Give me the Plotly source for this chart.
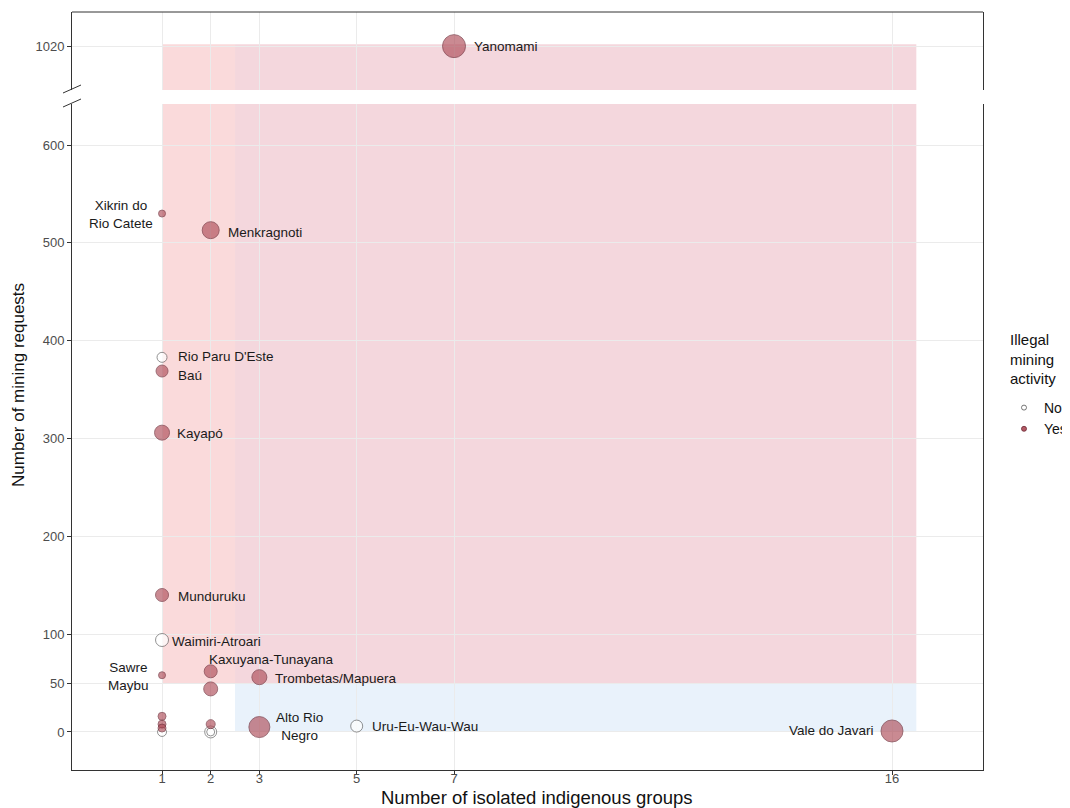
import plotly.graph_objects as go

# ---------------- data ----------------
names = ["Yanomami", "Xikrin do<br>Rio Catete", "Menkragnoti", "Rio Paru D'Este", "Baú",
         "Kayapó", "Munduruku", "Waimiri-Atroari", "Sawre<br>Maybu", "Kaxuyana-Tunayana",
         "", "Trombetas/Mapuera", "Alto Rio<br>Negro", "Uru-Eu-Wau-Wau", "Vale do Javari",
         "", "", "", "", "", "", ""]
isolated_groups = [7, 1, 2, 1, 1, 1, 1, 1, 1, 2, 2, 3, 3, 5, 16, 1, 1, 1, 1, 2, 2, 2]
mining_requests = [1020, 530, 513, 383, 369, 306, 140, 94, 58, 62, 44, 56, 5, 6, 1, 16, 8, 4, 0, 8, 0, 0]
territory_size = [23, 7, 17, 10, 12, 15, 13, 13, 7, 13, 14, 15, 21, 12, 22, 8, 8, 8, 9, 9, 12, 8]
illegal_mining = ["Yes", "Yes", "Yes", "No", "Yes", "Yes", "Yes", "No", "Yes", "Yes",
                  "Yes", "Yes", "Yes", "No", "Yes", "Yes", "Yes", "Yes", "No", "Yes", "No", "No"]

x_ticks = [1, 2, 3, 5, 7, 16]
y_ticks_low = [0, 50, 100, 200, 300, 400, 500, 600]
y_ticks_high = [1020]
break_value = 700

# ---------------- label placement (style) ----------------
label_dx = [18, -7, 15, 14, 14, 13, 14, 8, -11, -4, 0, 14, 15, 13, -16, 0, 0, 0, 0, 0, 0, 0]
label_dy = [0, -1, -2, 1, -4, -1, -1, -1, -1, 12, 0, -1, 1, 0, 0, 0, 0, 0, 0, 0, 0, 0]
label_anchor = ["left", "right", "left", "left", "left", "left", "left", "left", "right", "left",
                "left", "left", "left", "left", "right", "left", "left", "left", "left", "left", "left", "left"]

FONT = "Liberation Sans, Arial, sans-serif"
FILL_YES = "rgba(172,72,84,0.9)"
LINE_YES = "#6a2632"
LINE_NO = "#555555"

# page body has an 8px margin; plot area wanted at screen px [72..983] x [12..770]
OFF = 8
W, H = 1070, 808
PL, PR, PT, PB = 72, 983, 12, 770
pw, ph = PR - PL, PB - PT
L, T = PL - OFF, PT - OFF
R, B = W - pw - L, H - ph - T


def px_x(p):
    return (p - PL) / pw


def px_y(p):
    return (PB - p) / ph


low_dom = [0, px_y(104)]
high_dom = [px_y(90), 1]

fig = go.Figure()

for cat in ["No", "Yes"]:
    for panel in ["y", "y2"]:
        xs, ys, ss = [], [], []
        for xi, yi, si, ci in zip(isolated_groups, mining_requests, territory_size, illegal_mining):
            p = "y2" if yi > break_value else "y"
            if ci == cat and p == panel:
                xs.append(xi)
                ys.append(yi)
                ss.append(si)
        if not xs:
            continue
        fig.add_trace(go.Scatter(
            x=xs, y=ys, xaxis="x", yaxis=panel, mode="markers", showlegend=False,
            marker=dict(size=ss,
                        color=FILL_YES if cat == "Yes" else "white",
                        line=dict(color=LINE_YES if cat == "Yes" else LINE_NO, width=0.9)),
            hoverinfo="skip"))

# legend entries
for cat in ["No", "Yes"]:
    fig.add_trace(go.Scatter(
        x=[None], y=[None], mode="markers", name=cat,
        marker=dict(size=5, color=FILL_YES if cat == "Yes" else "white",
                    line=dict(color=LINE_YES if cat == "Yes" else LINE_NO, width=0.8))))

# labels
annotations = []
for n, xi, yi, dx, dy, anc in zip(names, isolated_groups, mining_requests, label_dx, label_dy, label_anchor):
    if not n:
        continue
    annotations.append(dict(
        x=xi, y=yi, xref="x", yref="y2" if yi > break_value else "y",
        text=n, showarrow=False, xanchor=anc, yanchor="middle", align="center",
        xshift=dx, yshift=dy, font=dict(family=FONT, size=13.5, color="#1a1a1a")))

# axis titles
annotations.append(dict(
    x=px_x(18), y=px_y(385), xref="paper", yref="paper", text="Number of mining requests",
    textangle=-90, showarrow=False, xanchor="center", yanchor="middle",
    font=dict(family=FONT, size=17, color="#111111")))
annotations.append(dict(
    x=px_x(537), y=px_y(797), xref="paper", yref="paper",
    text="Number of isolated indigenous groups", showarrow=False,
    xanchor="center", yanchor="middle",
    font=dict(family=FONT, size=18.5, color="#111111")))
# legend title
annotations.append(dict(
    x=px_x(1008), y=px_y(359), xref="paper", yref="paper",
    text="Illegal<br>mining<br>activity", showarrow=False, align="left",
    xanchor="left", yanchor="middle",
    font=dict(family=FONT, size=15, color="#111111")))

shapes = []
# shaded zones (lower and upper panel)
for yr in ["y", "y2"]:
    shapes.append(dict(type="rect", xref="x", yref=yr, x0=1, x1=2.5, y0=50, y1=1022,
                       fillcolor="#FADADB", line=dict(width=0), layer="below"))
    shapes.append(dict(type="rect", xref="x", yref=yr, x0=2.5, x1=16.5, y0=50, y1=1022,
                       fillcolor="#F4D7DD", line=dict(width=0), layer="below"))
shapes.append(dict(type="rect", xref="x", yref="y", x0=2.5, x1=16.5, y0=0, y1=50,
                   fillcolor="#E9F2FB", line=dict(width=0), layer="below"))
# top border
shapes.append(dict(type="line", xref="paper", yref="paper", x0=0, x1=1, y0=1, y1=1,
                   line=dict(color="#333333", width=1)))
# axis break marks
for yc in [89, 103]:
    shapes.append(dict(type="line", xref="paper", yref="paper",
                       x0=px_x(63), x1=px_x(81), y0=px_y(yc + 4), y1=px_y(yc - 4),
                       line=dict(color="#333333", width=1)))

axis_common = dict(showline=True, linecolor="#333333", linewidth=1, ticks="outside",
                   ticklen=4, tickcolor="#333333", showgrid=True, gridcolor="#EBEBEB",
                   gridwidth=1, zeroline=False, automargin=False,
                   tickfont=dict(family=FONT, size=13, color="#4D4D4D"))

fig.update_layout(
    width=W, height=H,
    margin=dict(l=L, r=R, t=T, b=B, autoexpand=False),
    paper_bgcolor="white", plot_bgcolor="white",
    font=dict(family=FONT, size=13, color="#1a1a1a"),
    xaxis=dict(domain=[0, 1], range=[-0.85, 17.87], tickvals=x_ticks, anchor="y",
               ticklabelstandoff=-8, **axis_common),
    yaxis=dict(domain=low_dom, range=[-38.9, 642], tickvals=y_ticks_low, anchor="x",
               mirror=True, **axis_common),
    yaxis2=dict(domain=high_dom, range=[975, 1055], tickvals=y_ticks_high, anchor="x",
                mirror=True, **axis_common),
    shapes=shapes,
    annotations=annotations,
    legend=dict(x=px_x(1004), y=px_y(392), xanchor="left", yanchor="top",
                font=dict(family=FONT, size=14, color="#111111"),
                bgcolor="rgba(0,0,0,0)", itemwidth=30),
    showlegend=True,
)

fig.write_html("out.html")
